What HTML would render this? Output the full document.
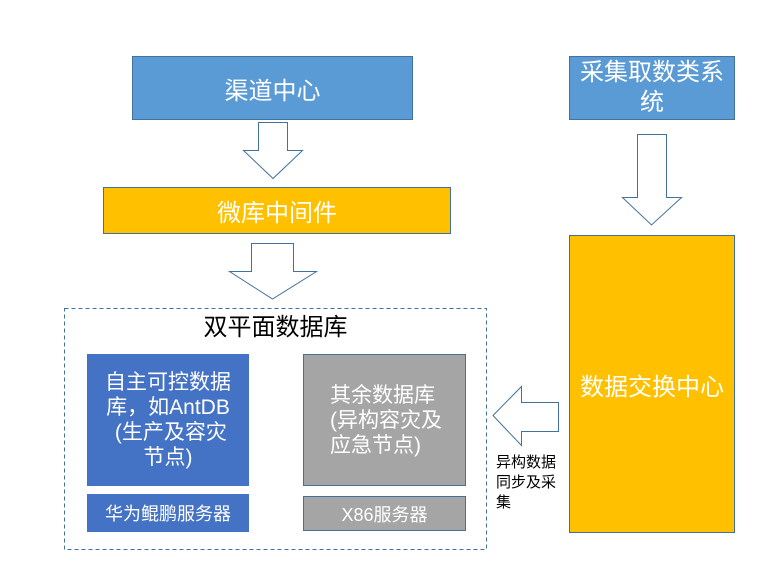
<!DOCTYPE html>
<html><head><meta charset="utf-8"><style>
html,body{margin:0;padding:0;background:#fff;}
body{width:776px;height:561px;position:relative;overflow:hidden;font-family:"Liberation Sans","Noto Sans CJK SC",sans-serif;}
.b{position:absolute;box-sizing:border-box;display:flex;align-items:center;justify-content:center;text-align:center;color:#fff;}
.t{position:absolute;white-space:nowrap;}
</style></head><body>
<svg width="776" height="561" style="position:absolute;left:0;top:0">
<rect x="64.5" y="308.5" width="422" height="241" fill="none" stroke="#41719c" stroke-width="1" stroke-dasharray="4,3"/>
<polygon points="258.5,122.5 287.5,122.5 287.5,150.5 302.5,150.5 273,178.5 243.5,150.5 258.5,150.5" fill="#fff" stroke="#41719c" stroke-width="1"/>
<polygon points="251.5,243.5 293.5,243.5 293.5,271.5 316.5,271.5 272.5,299 229.5,271.5 251.5,271.5" fill="#fff" stroke="#41719c" stroke-width="1"/>
<polygon points="637.5,134.5 666.5,134.5 666.5,197.5 681.5,197.5 651.5,225 622.5,197.5 637.5,197.5" fill="#fff" stroke="#41719c" stroke-width="1"/>
<polygon points="558.5,402.5 558.5,431.5 521.5,431.5 521.5,445.5 493,415.5 521.5,386.5 521.5,402.5" fill="#fff" stroke="#41719c" stroke-width="1"/>
</svg>
<div class="b" style="left:132px;top:56px;width:281px;height:64px;background:#5b9bd5;border:1px solid #41719c;font-size:24px;">渠道中心</div>
<div class="b" style="left:103px;top:187px;width:348px;height:47px;background:#ffc000;border:1px solid #41719c;font-size:24px;">微库中间件</div>
<div class="b" style="left:569px;top:56px;width:166px;height:64px;background:#5b9bd5;border:1px solid #41719c;font-size:24px;line-height:30px;">采集取数类系<br>统</div>
<div class="b" style="left:569px;top:235px;width:166px;height:298px;background:#ffc000;border:1px solid #41719c;font-size:24px;">数据交换中心</div>
<div class="t" style="left:64px;top:312px;width:423px;text-align:center;font-size:24px;line-height:32px;color:#000;">双平面数据库</div>
<div class="b" style="left:87px;top:354px;width:162px;height:132px;background:#4472c4;font-size:21px;line-height:25px;">自主可控数据<br>库，如AntDB<br>&nbsp;(生产及容灾<br>节点)</div>
<div class="b" style="left:87px;top:494px;width:162px;height:38px;background:#4472c4;font-size:18px;">华为鲲鹏服务器</div>
<div class="b" style="left:303px;top:354px;width:163px;height:132px;background:#a5a5a5;border:1px solid #41719c;font-size:21px;line-height:25px;justify-content:flex-start;text-align:left;padding-left:26px;">其余数据库<br>(异构容灾及<br>应急节点)</div>
<div class="b" style="left:303px;top:496px;width:163px;height:35px;background:#a5a5a5;border:1px solid #41719c;font-size:18px;">X86服务器</div>
<div class="t" style="left:496px;top:453px;font-size:15px;line-height:20px;color:#000;">异构数据<br>同步及采<br>集</div>
</body></html>
